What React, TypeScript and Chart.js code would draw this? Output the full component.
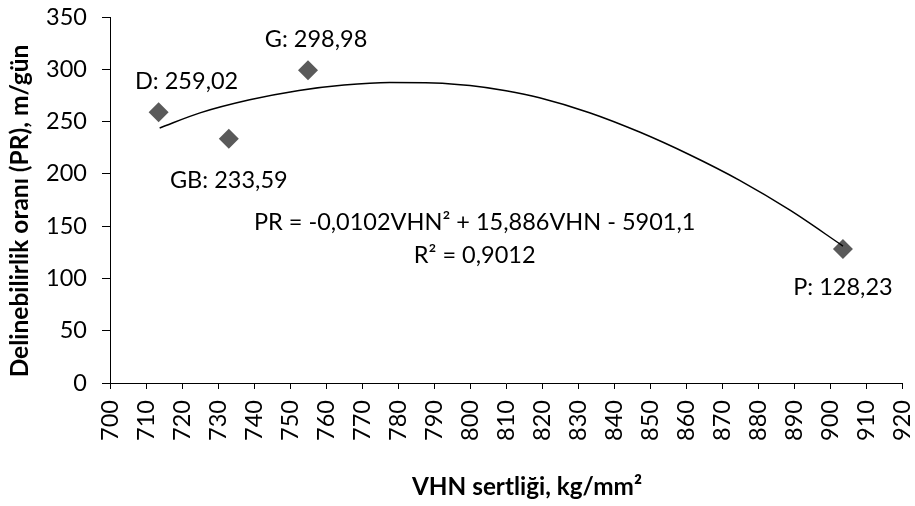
import React, { useEffect, useRef } from "react";
import { Chart, registerables } from "chart.js";

Chart.register(...registerables);

// Measured points
const pointNames = ["D", "GB", "G", "P"];
const vhnValues = [713.5, 733, 755, 903.6];
const prValues = [259.02, 233.59, 298.98, 128.23];
const prLabels = ["259,02", "233,59", "298,98", "128,23"];

// Polynomial trendline
const trendX = [713.8, 725, 738.8, 752.5, 765, 777.7, 790, 800, 810, 819.3, 833.2, 847.1, 861, 874.9, 889, 903.6];
const trendY = [243.9, 258.3, 270.8, 279.8, 285, 287.4, 287, 284.5, 279.5, 272.8, 258.5, 240, 218.3, 193.8, 165, 131];

// Axis ticks
const xMin = 700;
const xMax = 920;
const xStep = 10;
const yMin = 0;
const yMax = 350;
const yStep = 50;

// Texts
const equationLine1 = "PR = -0,0102VHN² + 15,886VHN - 5901,1";
const equationLine2 = "R² = 0,9012";
const xTitle = "VHN sertliği, kg/mm²";
const yTitle = "Delinebilirlik oranı (PR), m/gün";

const FONT = "Lato";
const TEXT_SIZE = 23.5;
const MARKER = "#5a5a5a";

export default function App() {
  const ref = useRef<HTMLCanvasElement | null>(null);

  useEffect(() => {
    if (!ref.current) return;
    const labelOffsets = [
      [28, -31],
      [0, 40.5],
      [8, -32],
      [0, 38],
    ];
    const textPlugin = {
      id: "texts",
      afterDatasetsDraw(chart: any) {
        const ctx = chart.ctx;
        const xs = chart.scales.x;
        const ys = chart.scales.y;
        ctx.save();
        ctx.fillStyle = "#000";
        ctx.textAlign = "center";
        ctx.textBaseline = "alphabetic";
        ctx.font = `${TEXT_SIZE}px ${FONT}`;
        const capHalf = 8.3;
        for (let i = 0; i < pointNames.length; i++) {
          const px = xs.getPixelForValue(vhnValues[i]);
          const py = ys.getPixelForValue(prValues[i]);
          ctx.fillText(
            `${pointNames[i]}: ${prLabels[i]}`,
            px + labelOffsets[i][0],
            py + labelOffsets[i][1] + capHalf
          );
        }
        // equation
        const ex = xs.getPixelForValue(801.3);
        ctx.fillText(equationLine1, ex, ys.getPixelForValue(153.8) + capHalf);
        ctx.fillText(equationLine2, ex, ys.getPixelForValue(122.7) + capHalf);

        // axis titles
        ctx.font = `bold 24.3px ${FONT}`;
        ctx.fillText(xTitle, 527, 486 + 8.7);
        ctx.save();
        ctx.translate(19 + 9, 211);
        ctx.rotate(-Math.PI / 2);
        ctx.font = `bold 24.5px ${FONT}`;
        ctx.fillText(yTitle, 0, 0);
        ctx.restore();
        ctx.restore();
      },
    };

    const chart = new Chart(ref.current, {
      type: "scatter",
      data: {
        datasets: [
          {
            type: "line",
            label: "trend",
            data: trendX.map((x, i) => ({ x, y: trendY[i] })),
            borderColor: "#000",
            borderWidth: 1.5,
            pointRadius: 0,
            cubicInterpolationMode: "monotone",
            fill: false,
            order: 0,
          } as any,
          {
            type: "scatter",
            label: "PR",
            data: vhnValues.map((x, i) => ({ x, y: prValues[i] })),
            pointStyle: "rectRot",
            pointRadius: 10,
            backgroundColor: MARKER,
            borderColor: MARKER,
            borderWidth: 0,
            order: 1,
          },
        ],
      },
      options: {
        animation: false,
        responsive: true,
        maintainAspectRatio: false,
        layout: { padding: { left: 0, right: 13, top: 17, bottom: 0 } },
        plugins: {
          legend: { display: false },
          tooltip: { enabled: false },
        },
        scales: {
          x: {
            type: "linear",
            min: xMin,
            max: xMax,
            afterFit: (s: any) => {
              s.height = 123;
              s.paddingLeft = 0;
              s.paddingRight = 0;
            },
            ticks: {
              stepSize: xStep,
              autoSkip: false,
              minRotation: 90,
              maxRotation: 90,
              padding: 11,
              color: "#000",
              font: { family: FONT, size: TEXT_SIZE },
            },
            grid: {
              display: true,
              drawOnChartArea: false,
              drawTicks: true,
              tickLength: 6,
              color: "#000",
              lineWidth: 1,
            },
            border: { display: true, color: "#000", width: 1 },
          },
          y: {
            type: "linear",
            min: yMin,
            max: yMax,
            afterFit: (s: any) => {
              s.width = 110;
              s.paddingTop = 0;
              s.paddingBottom = 0;
            },
            ticks: {
              stepSize: yStep,
              padding: 15,
              color: "#000",
              font: { family: FONT, size: TEXT_SIZE },
            },
            grid: {
              display: true,
              drawOnChartArea: false,
              drawTicks: true,
              tickLength: 8,
              color: "#000",
              lineWidth: 1,
            },
            border: { display: true, color: "#000", width: 1 },
          },
        },
      },
      plugins: [textPlugin],
    });
    return () => chart.destroy();
  }, []);

  return (
    <div style={{ position: "absolute", left: 0, top: 0, width: 915, height: 506, background: "#fff" }}>
      <canvas ref={ref} />
    </div>
  );
}
